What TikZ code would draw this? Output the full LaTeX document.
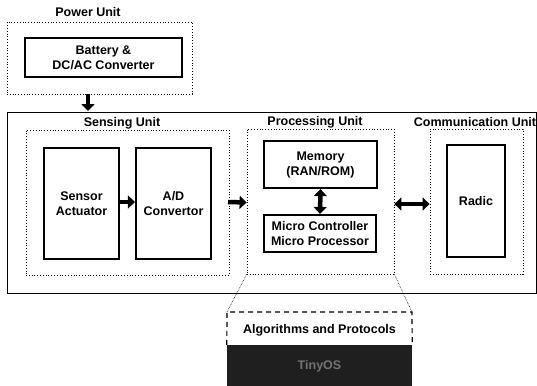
\documentclass[tikz,border=0pt]{standalone}
\usepackage{fontspec}
\setmainfont{Liberation Sans}
\usetikzlibrary{arrows.meta}
\tikzset{
  lbl/.style={font=\fontsize{12.5}{14.5}\selectfont\bfseries, inner sep=0pt},
  unitbox/.style={draw, dotted, line width=0.8pt, inner sep=0pt},
  partbox/.style={draw, line width=2.2pt, inner sep=0pt, align=center,
    font=\fontsize{12.5}{15}\selectfont\bfseries},
  blockarrow/.style={line width=4.5pt, -{Triangle[length=7pt,width=13pt]}},
  blockboth/.style={line width=4.5pt, {Triangle[length=7pt,width=13pt]}-{Triangle[length=7pt,width=13pt]}},
  zoomline/.style={densely dotted, line width=0.6pt},
}
\begin{document}
\begin{tikzpicture}[x=1pt,y=-1pt]
\useasboundingbox (0,0) rectangle (537,385);

% power unit
\node[lbl] (powerlbl) at (88,12) {Power Unit};
\node[unitbox, minimum width=185, minimum height=72] (power) at (99.5,58) {};
\node[partbox, minimum width=157, minimum height=39] (battery) at (103.5,57.5) {Battery \&\\DC/AC Converter};

% node body
\node[draw, line width=0.9pt, minimum width=529, minimum height=181, inner sep=0pt] (body) at (271.5,202.5) {};
\draw[blockarrow] (power.south -| 88,0) -- (88,111);

% sensing unit
\node[lbl] (senselbl) at (122,123) {Sensing Unit};
\node[unitbox, minimum width=203, minimum height=145] (sensing) at (127.5,202.5) {};
\node[partbox, minimum width=75, minimum height=111] (sensor) at (81.5,203.5) {Sensor\\Actuator};
\node[partbox, minimum width=75, minimum height=111] (adc) at (173.5,203.5) {A/D\\Convertor};

% processing unit
\node[lbl] (proclbl) at (315,122) {Processing Unit};
\node[unitbox, minimum width=147, minimum height=145] (proc) at (320.5,201.5) {};
\node[partbox, minimum width=113, minimum height=47] (memory) at (320.5,164.5) {Memory\\(RAN/ROM)};
\node[partbox, minimum width=112, minimum height=37] (micro) at (320,233.5) {Micro Controller\\Micro Processor};

% communication unit
\node[lbl] (commlbl) at (475,122) {Communication Unit};
\node[unitbox, minimum width=93, minimum height=145] (comm) at (476.5,201.5) {};
\node[partbox, minimum width=58, minimum height=112] (radio) at (476,201) {Radic};

% data flow
\draw[blockarrow] (sensor.east |- 0,202) -- (adc.west |- 0,202);
\draw[blockarrow] (228,202) -- (sensing.east -| proc.west);
\draw[blockboth] (memory.south) -- (micro.north);
\draw[blockboth] (proc.east |- 0,204) -- (comm.west |- 0,204);

% software layer
\coordinate (algtl) at (227,312);
\coordinate (algtr) at (412,312);
\node[draw=none, fill=black!88, minimum width=185, minimum height=42, inner sep=0pt,
  font=\fontsize{12.5}{15}\selectfont\bfseries, text=black!55] (os) at (319.5,366) {TinyOS};
\draw[line width=1.2pt, dash pattern=on 5pt off 4pt] (os.north west) -- (algtl) -- (algtr) -- (os.north east);
\node[lbl] (alg) at (319.5,330) {Algorithms and Protocols};
\draw[zoomline] (proc.south west) -- (algtl);
\draw[zoomline] (proc.south east) -- (algtr);
\end{tikzpicture}
\end{document}
